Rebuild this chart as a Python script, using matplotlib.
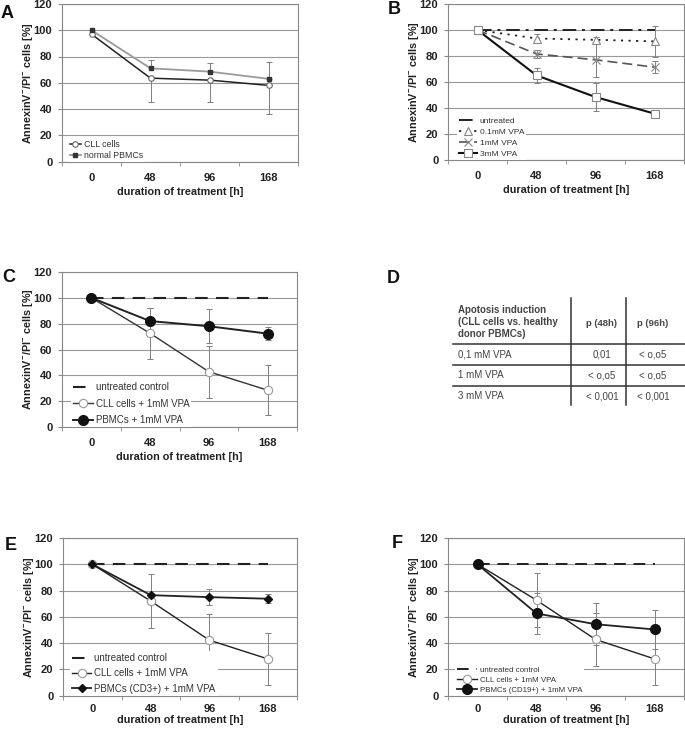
import matplotlib
matplotlib.use('Agg')
import matplotlib.pyplot as plt

plt.rcParams['font.family'] = ['Liberation Sans', 'DejaVu Sans']
plt.rcParams['mathtext.fontset'] = 'custom'
plt.rcParams['mathtext.rm'] = 'Liberation Sans:bold'
plt.rcParams['mathtext.bf'] = 'Liberation Sans:bold'

W, H = 685, 729

hours = ['0', '48', '96', '168']
ylabel = r'AnnexinV$^{-}$/PI$^{-}$ cells [%]'
xlabel = 'duration of treatment [h]'

# A
a_cll = [97, 63.5, 62, 58]
a_cll_err = [0, 18, 17, 22]
a_pbmc = [100, 71, 68.5, 63]
a_pbmc_err = [0, 6, 6.5, 13]

# B
b_untreated = [100, 100, 100, 100]
b_01 = [100, 93.4, 92.4, 91.2]
b_01_err = [0, 3.4, 2, 11.7]
b_1 = [100, 81.5, 77, 71.3]
b_1_err = [0, 3, 13.5, 4.5]
b_3 = [100, 65, 48.3, 35.5]
b_3_err = [0, 6, 10.5, 1]

# C
c_untreated = [100, 100, 100, 100]
c_cll = [100, 72.5, 42.8, 28.5]
c_cll_err = [0, 20, 20, 19.5]
c_pbmc = [100, 82, 78, 72.3]
c_pbmc_err = [0, 10, 13, 5]

# D
d_header = 'Apotosis induction\n(CLL cells vs. healthy\ndonor PBMCs)'
d_cols = ['p (48h)', 'p (96h)']
d_rows = ['0,1 mM VPA', '1 mM VPA', '3 mM VPA']
d_p48 = ['0,01', '< o,o5', '< 0,001']
d_p96 = ['< o,o5', '< o,o5', '< 0,001']

# E
e_untreated = [100, 100, 100, 100]
e_cll = [100, 72, 42.3, 28]
e_cll_err = [0, 20.5, 19.8, 20]
e_pbmc = [100, 76.5, 75, 73.8]
e_pbmc_err = [0, 1.5, 6, 3.6]

# F
f_untreated = [100, 100, 100, 100]
f_cll = [100, 72.7, 42.8, 28]
f_cll_err = [0, 20.3, 20, 19.5]
f_pbmc = [100, 62.6, 54.4, 50.4]
f_pbmc_err = [0, 15.5, 16, 14.8]

fig = plt.figure(figsize=(W / 100, H / 100), dpi=100)


def px_axes(l, r, t, b):
    return fig.add_axes([l / W, 1 - b / H, (r - l) / W, (b - t) / H])


def style(ax, letter, lx, ly, xpad=8, lpad=3):
    x = range(len(hours))
    ax.set_xlim(-0.5, len(hours) - 0.5)
    ax.set_ylim(0, 120)
    ax.set_yticks(range(0, 121, 20))
    ax.set_xticks(list(x))
    ax.set_xticklabels(hours)
    ax.set_xticks([i - 0.5 for i in range(len(hours) + 1)], minor=True)
    ax.tick_params(axis='x', which='major', length=0, pad=xpad)
    ax.tick_params(axis='x', which='minor', length=3, color='#888888', direction='out')
    ax.tick_params(axis='y', length=3, color='#888888', pad=4)
    for lab in ax.get_xticklabels() + ax.get_yticklabels():
        lab.set_fontsize(8)
        lab.set_fontweight('bold')
        lab.set_color('#222222')
    for s in ax.spines.values():
        s.set_color('#888888')
        s.set_linewidth(0.8)
    ax.yaxis.grid(True, color='#999999', linewidth=0.8)
    ax.set_axisbelow(True)
    ax.set_ylabel(ylabel, fontsize=7.8, fontweight='bold', color='#222222', labelpad=-1)
    ax.set_xlabel(xlabel, fontsize=7.8, fontweight='bold', color='#222222', labelpad=lpad)
    fig.text(lx / W, 1 - ly / H, letter, fontsize=13, fontweight='bold',
             ha='left', va='center', color='#111111')


def err(ax, y, e, lower=True, upper=True):
    x = range(len(y))
    lo = [v if lower else 0 for v in e]
    hi = [v if upper else 0 for v in e]
    ax.errorbar(x, y, yerr=[lo, hi], fmt='none', ecolor='#808080',
                elinewidth=0.7, capsize=2.2, capthick=0.7, zorder=2)


def legend(ax, anchor, fs, spacing, hlen):
    leg = ax.legend(loc='lower left', bbox_to_anchor=anchor, fontsize=fs,
                    labelspacing=spacing, handlelength=hlen, handletextpad=0.3,
                    borderpad=0.2, borderaxespad=0, frameon=True, fancybox=False)
    leg.get_frame().set_facecolor('white')
    leg.get_frame().set_edgecolor('none')
    leg.get_frame().set_alpha(1)
    for t in leg.get_texts():
        t.set_color('#333333')
    leg.set_zorder(5)


x = list(range(len(hours)))

# ---- A
ax = px_axes(62, 298, 4, 161.5)
style(ax, 'A', 1, 13)
err(ax, a_cll, a_cll_err, upper=False)
err(ax, a_pbmc, a_pbmc_err, lower=False)
ax.plot(x, a_cll, color='#222222', lw=1.1, marker='o', ms=4,
        mfc='white', mec='#666666', mew=0.8, label='CLL cells', zorder=3)
ax.plot(x, a_pbmc, color='#9a9a9a', lw=1.3, marker='s', ms=3.5,
        mfc='#333333', mec='#333333', label='normal PBMCs', zorder=3)
legend(ax, (0.025, 0.0), 6.3, 0.15, 1.3)

# ---- B
ax = px_axes(448, 684, 4, 159.7)
style(ax, 'B', 388, 10)
err(ax, b_01, b_01_err)
err(ax, b_1, b_1_err)
err(ax, b_3, b_3_err)
ax.plot(x, b_untreated, color='#222222', lw=1.4, dashes=(7, 3, 1.5, 3), label='untreated', zorder=3)
ax.plot(x, b_01, color='#222222', lw=1.3, ls=(0, (1.2, 3)), marker='^', ms=6,
        mfc='white', mec='#888888', mew=0.8, label='0.1mM VPA', zorder=3)
ax.plot(x, b_1, color='#555555', lw=1.2, dashes=(6, 3), marker='x', ms=6,
        mec='#888888', mew=0.8, label='1mM VPA', zorder=3)
ax.plot(x, b_3, color='#111111', lw=1.5, marker='s', ms=6,
        mfc='white', mec='#888888', mew=0.8, label='3mM VPA', zorder=3)
legend(ax, (0.04, 0.0), 6, 0.4, 2.2)

# ---- C
ax = px_axes(62, 297, 272, 427)
style(ax, 'C', 2, 277)
err(ax, c_cll, c_cll_err)
err(ax, c_pbmc, c_pbmc_err)
ax.plot(x, c_untreated, color='#222222', lw=1.5, dashes=(6, 4),
        label='untreated control', zorder=3)
ax.plot(x, c_cll, color='#333333', lw=1.0, marker='o', ms=6,
        mfc='white', mec='#999999', mew=0.8, label='CLL cells + 1mM VPA', zorder=3)
ax.plot(x, c_pbmc, color='#222222', lw=1.4, marker='o', ms=7,
        mfc='#111111', mec='#111111', label='PBMCs + 1mM VPA', zorder=4)
legend(ax, (0.04, 0.0), 7, 0.65, 2.0)

# ---- D (table)
axd = fig.add_axes([0, 0, 1, 1])
axd.set_xlim(0, W)
axd.set_ylim(H, 0)
axd.axis('off')
axd.text(387, 278, 'D', fontsize=13, fontweight='bold', ha='left', va='center', color='#111111')
axd.text(458, 322, d_header, fontsize=7, fontweight='bold', ha='left', va='center',
         color='#444444', linespacing=1.2)
col_x = [602, 653]
for cx, c in zip(col_x, d_cols):
    axd.text(cx, 323, c, fontsize=6.8, fontweight='bold', ha='center', va='center', color='#444444')
row_y = [354, 375, 396]
for ry, name, p1, p2 in zip(row_y, d_rows, d_p48, d_p96):
    axd.text(458, ry, name, fontsize=7, ha='left', va='center', color='#444444')
    axd.text(col_x[0], ry, p1, fontsize=7, ha='center', va='center', color='#444444')
    axd.text(col_x[1], ry, p2, fontsize=7, ha='center', va='center', color='#444444')
for hy in [344, 365, 385.5]:
    axd.plot([453, 685], [hy, hy], color='#333333', lw=1.1)
for vx in [571.5, 626.5]:
    axd.plot([vx, vx], [298, 405], color='#333333', lw=1.1)

# ---- E
ax = px_axes(63, 297, 538, 695.7)
style(ax, 'E', 5, 545, xpad=6, lpad=0.5)
err(ax, e_cll, e_cll_err)
err(ax, e_pbmc, e_pbmc_err)
ax.plot(x, e_untreated, color='#222222', lw=1.5, dashes=(6, 4),
        label='untreated control', zorder=3)
ax.plot(x, e_cll, color='#222222', lw=1.0, marker='o', ms=6,
        mfc='white', mec='#999999', mew=0.8, label='CLL cells + 1mM VPA', zorder=3)
ax.plot(x, e_pbmc, color='#222222', lw=1.3, marker='D', ms=4.5,
        mfc='#111111', mec='#111111', label='PBMCs (CD3+) + 1mM VPA', zorder=4)
legend(ax, (0.03, 0.0), 7, 0.55, 2.0)

# ---- F
ax = px_axes(448, 684, 538, 695.7)
style(ax, 'F', 392, 543, xpad=6, lpad=0.5)
err(ax, f_cll, f_cll_err)
err(ax, f_pbmc, f_pbmc_err)
ax.plot(x, f_untreated, color='#222222', lw=1.4, dashes=(6, 4),
        label='untreated control', zorder=3)
ax.plot(x, f_cll, color='#222222', lw=1.0, marker='o', ms=6,
        mfc='white', mec='#999999', mew=0.8, label='CLL cells + 1mM VPA', zorder=3)
ax.plot(x, f_pbmc, color='#222222', lw=1.3, marker='o', ms=7,
        mfc='#111111', mec='#111111', label='PBMCs (CD19+) + 1mM VPA', zorder=4)
legend(ax, (0.03, 0.0), 5.7, 0.33, 2.6)

fig.savefig('out.png', dpi=100)
